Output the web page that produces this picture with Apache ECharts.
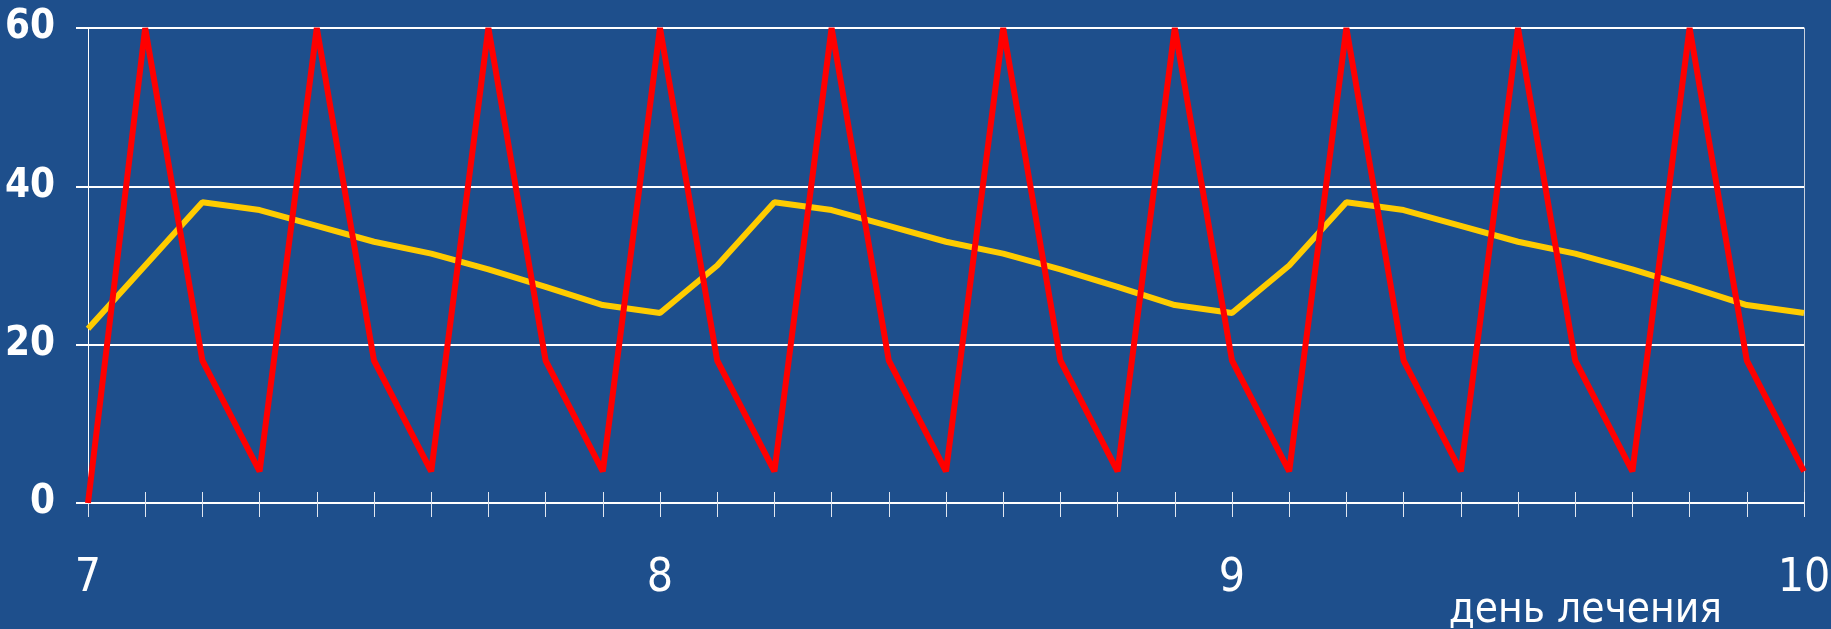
<!DOCTYPE html>
<html>
<head>
<meta charset="utf-8">
<script src="https://cdn.jsdelivr.net/npm/echarts@6/dist/echarts.min.js"></script>
<style>
html,body{margin:0;padding:0;background:#1e4f8c;}
#c{width:1831px;height:629px;}
</style>
</head>
<body>
<div id="c"></div>
<script>
const categories = ['7.0','7.1','7.2','7.3','7.4','7.5','7.6','7.7','7.8','7.9',
  '8.0','8.1','8.2','8.3','8.4','8.5','8.6','8.7','8.8','8.9',
  '9.0','9.1','9.2','9.3','9.4','9.5','9.6','9.7','9.8','9.9','10.0'];
const dayTickLabels = {'7.0':'7','8.0':'8','9.0':'9','10.0':'10'};
const redSeries = [0,60,18,4,60,18,4,60,18,4,60,18,4,60,18,4,60,18,4,60,18,4,60,18,4,60,18,4,60,18,4];
const yellowSeries = [22,30,38,37,35,33,31.5,29.5,27.3,25,24,30,38,37,35,33,31.5,29.5,27.3,25,24,30,38,37,35,33,31.5,29.5,27.3,25,24];
const yTicks = [0,20,40,60];
const axisTitle = 'день лечения';

const FONT = 'DejaVu Sans Condensed';
const chart = echarts.init(document.getElementById('c'));
chart.setOption({
  backgroundColor: '#1e4f8c',
  animation: false,
  grid: {left: 88, right: 27, top: 28, bottom: 126, containLabel: false, outerBoundsMode: 'none'},
  xAxis: [{
    type: 'category', data: categories, boundaryGap: false,
    axisLine: {show: true, lineStyle: {color: '#ffffff', width: 2}},
    axisTick: {show: true, interval: 0, length: 14, lineStyle: {color: '#e0e6f0', width: 1}},
    axisLabel: {
      interval: 0, margin: 53, color: '#ffffff', fontFamily: FONT, fontSize: 46,
      formatter: v => dayTickLabels[v] || ''
    },
    splitLine: {show: false}
  }, {
    type: 'category', data: categories, boundaryGap: false, position: 'bottom',
    axisLine: {show: false},
    axisTick: {show: true, inside: true, interval: 0, length: 11, lineStyle: {color: '#e0e6f0', width: 1}},
    axisLabel: {show: false},
    splitLine: {show: false}
  }],
  yAxis: [{
    type: 'value', min: 0, max: 60, interval: 20,
    axisLine: {show: true, lineStyle: {color: '#ffffff', width: 1}},
    axisTick: {show: true, length: 12, lineStyle: {color: '#ffffff', width: 2}},
    axisLabel: {
      margin: 33, color: '#ffffff', fontFamily: FONT, fontWeight: 'bold', fontSize: 40,
      formatter: v => yTicks.includes(v) ? String(v) : ''
    },
    splitLine: {show: true, lineStyle: {color: '#ffffff', width: 2}}
  }, {
    type: 'value', min: 0, max: 60, interval: 20, position: 'right',
    axisLine: {show: true, lineStyle: {color: '#c8d0dc', width: 1}},
    axisTick: {show: false}, axisLabel: {show: false}, splitLine: {show: false}
  }],
  series: [{
    type: 'line', data: yellowSeries, xAxisIndex: 0, yAxisIndex: 0,
    symbol: 'none', lineStyle: {color: '#ffcc00', width: 6}, z: 3
  }, {
    type: 'line', data: redSeries, xAxisIndex: 0, yAxisIndex: 0,
    symbol: 'none', lineStyle: {color: '#ff0000', width: 6}, z: 4
  }],
  graphic: [{
    type: 'text', x: 1722, y: 632, z: 10,
    style: {text: axisTitle, fill: '#ffffff', fontFamily: FONT, fontSize: 42, align: 'right', verticalAlign: 'bottom'}
  }]
});
</script>
</body>
</html>
